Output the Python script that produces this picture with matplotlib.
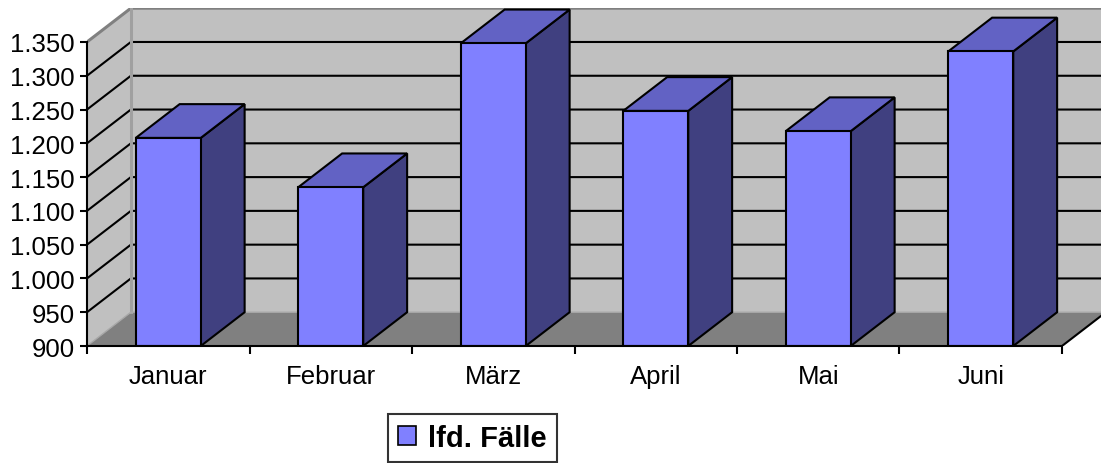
import matplotlib.pyplot as plt
from matplotlib.patches import Polygon, Patch
from matplotlib.ticker import FuncFormatter

# data
months = ["Januar", "Februar", "März", "April", "Mai", "Juni"]
cases = [1208, 1135, 1348, 1248, 1218, 1336]
series_name = "lfd. Fälle"
y_ticks = list(range(900, 1351, 50))

# look
FRONT = "#8080FF"
TOP = "#6262C4"
SIDE = "#404080"
WALL = "#C0C0C0"
FLOOR = "#808080"
EDGE = "#808080"
DX, DY = 0.27, 50      # depth offset (categories, values)
BAR_W = 0.4
LW = 1.5
FS = 18.5

plt.rcParams['font.family'] = ['Liberation Sans', 'DejaVu Sans']

fig = plt.figure(figsize=(11.01, 4.64), dpi=100)
ax = fig.add_axes([87 / 1101, 117 / 464, 1014 / 1101, 337.8 / 464])
n = len(months)
x0, x1 = -0.5, n - 0.5
ymin, ymax = y_ticks[0], y_ticks[-1]
ax.set_xlim(x0, x0 + 1014 / 162.5)
ax.set_ylim(ymin, ymax + DY)

# back wall
ax.add_patch(Polygon([(x0 + DX, ymin + DY), (x1 + DX, ymin + DY),
                      (x1 + DX, ymax + DY), (x0 + DX, ymax + DY)],
                     closed=True, fc=WALL, ec="none", zorder=1))
# left side wall
ax.add_patch(Polygon([(x0, ymin), (x0 + DX, ymin + DY), (x0 + DX, ymax + DY), (x0, ymax)],
                     closed=True, fc=WALL, ec="none", zorder=1))
# floor
ax.add_patch(Polygon([(x0, ymin), (x1, ymin), (x1 + DX, ymin + DY), (x0 + DX, ymin + DY)],
                     closed=True, fc=FLOOR, ec="none", zorder=1))

# gridlines on the walls
for v in y_ticks[1:-1]:
    ax.plot([x0, x0 + DX, x1 + DX], [v, v + DY, v + DY], color="black", lw=LW, zorder=2,
            solid_joinstyle="miter")
# wall borders
ax.plot([x0, x0 + DX, x1 + DX], [ymax, ymax + DY, ymax + DY], color=EDGE, lw=2.2, zorder=2)
ax.plot([x0 + DX, x0 + DX], [ymin + DY, ymax + DY], color="#A0A0A0", lw=2.2, zorder=2)
ax.plot([x0, x0 + DX, x1 + DX], [ymin, ymin + DY, ymin + DY], color="#A8A8A8", lw=1.0, zorder=2)
ax.plot([x1, x1 + DX], [ymin, ymin + DY], color="black", lw=LW, zorder=2)

# bars
for i, v in enumerate(cases):
    l, r = i - BAR_W / 2, i + BAR_W / 2
    ax.add_patch(Polygon([(r, ymin), (r + DX, ymin + DY), (r + DX, v + DY), (r, v)],
                         closed=True, fc=SIDE, ec="black", lw=LW, zorder=3))
    ax.add_patch(Polygon([(l, v), (r, v), (r + DX, v + DY), (l + DX, v + DY)],
                         closed=True, fc=TOP, ec="black", lw=LW, zorder=3))
    ax.add_patch(Polygon([(l, ymin), (r, ymin), (r, v), (l, v)],
                         closed=True, fc=FRONT, ec="black", lw=LW, zorder=4))

# axes
for s in ["top", "right"]:
    ax.spines[s].set_visible(False)
ax.spines["left"].set_bounds(ymin, ymax)
ax.spines["bottom"].set_bounds(x0, x1)
for s in ["left", "bottom"]:
    ax.spines[s].set_linewidth(LW)
    ax.spines[s].set_zorder(5)
ax.set_yticks(y_ticks)
ax.yaxis.set_major_formatter(FuncFormatter(lambda v, p: f"{int(v):,}".replace(",", ".")))
ax.set_xticks([x0 + k for k in range(n + 1)])
ax.set_xticklabels([])
ax.set_xticks(range(n), minor=True)
ax.set_xticklabels(months, minor=True)
ax.tick_params(axis="y", length=5, width=LW, pad=4, labelsize=FS)
ax.tick_params(axis="x", which="major", length=6, width=LW, direction="out")
ax.tick_params(axis="x", which="minor", length=0, pad=13, labelsize=FS)
ax.set_facecolor("none")

leg = fig.legend(handles=[Patch(fc=FRONT, ec="black", lw=1.2, label=series_name)],
                 loc="lower left", bbox_to_anchor=(388 / 1101, 1 / 464),
                 frameon=True, fancybox=False, prop={"weight": "bold", "size": 21},
                 handlelength=0.62, handleheight=0.62, handletextpad=0.4,
                 borderpad=0.35, borderaxespad=0)
leg.get_frame().set_edgecolor("black")
leg.get_frame().set_linewidth(LW)

fig.savefig("out.png", dpi=100)
